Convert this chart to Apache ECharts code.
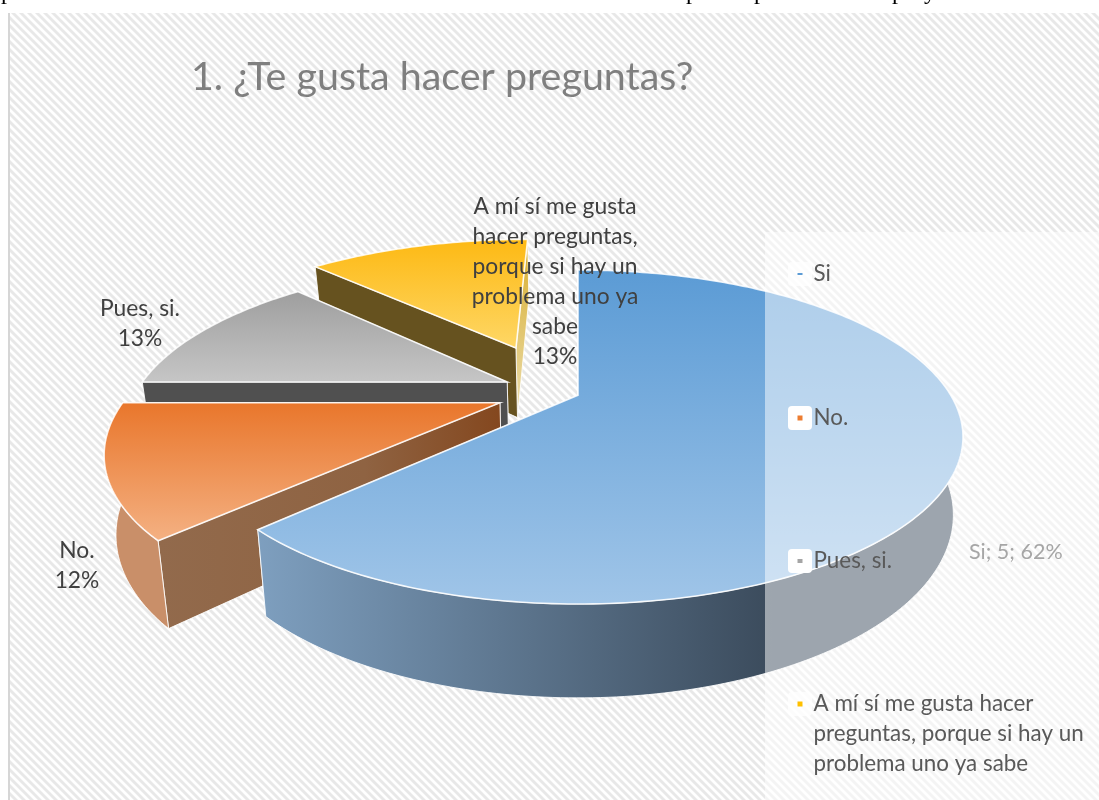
<!DOCTYPE html>
<html>
<head>
<meta charset="utf-8">
<style>html,body{margin:0;padding:0;background:#fff}#c{width:1099px;height:800px}</style>
<script src="https://cdn.jsdelivr.net/npm/echarts@6/dist/echarts.min.js"></script>
</head>
<body>
<div id="c"></div>
<script>
// ---- data ----
const chartTitle = '1. ¿Te gusta hacer preguntas?';
const categories = ['Si', 'No.', 'Pues, si.', 'A mí sí me gusta hacer preguntas, porque si hay un problema uno ya sabe'];
const values = [5, 1, 1, 1];
const percentLabels = ['62%', '12%', '13%', '13%'];
const legendColors = ['#5B9BD5', '#ED7D31', '#A5A5A5', '#FFC000'];

// ---- layout and style of the tilted pie ----
const ellipse = { cx: 578, cy: 437, rx: 385, ry: 167 };
const tilt = 0.25;                          // how far the disc centre sits above the ellipse centre
const floor = { scaleX: 0.975, depth: 78, growth: 0.095 }; // lower rim relative to the upper rim
const explode = [[0, 0], [-0.207, -0.047], [-0.194, 0.086], [-0.18, 0.326]];
const seriesZ = [4, 3, 2, 1];
const vGrad = (a, b) => ({ type: 'linear', x: 0, y: 0, x2: 0, y2: 1, colorStops: [{ offset: 0, color: a }, { offset: 1, color: b }] });
const hGrad = (stops) => ({ type: 'linear', x: 0, y: 0, x2: 1, y2: 0, colorStops: stops.map(s => ({ offset: s[0], color: s[1] })) });
const faces = [
  { top: vGrad('#5B9BD5', '#A0C5E8'), outer: hGrad([[0, '#7E9FBF'], [0.73, '#3B4B5C'], [1, '#3B4B5C']]), start: '#3B4B5C', end: '#7E9FBF' },
  { top: vGrad('#E9762B', '#F4B183'), outer: '#C98F69', start: hGrad([[0, '#926A4C'], [0.6, '#8F6342'], [1, '#84471E']]), end: '#84471E' },
  { top: vGrad('#9E9E9E', '#C6C6C6'), outer: '#707070', start: '#505050', end: '#505050' },
  { top: vGrad('#FDB913', '#FED766'), outer: '#66521F', start: '#66521F', end: vGrad('#D9AE2C', '#EADDB0') }
];

function project(X, Y, lowered) {
  const den = 1 + tilt * Y;
  let x = ellipse.cx + ellipse.rx * X * Math.sqrt(1 - tilt * tilt) / den;
  let y = ellipse.cy - ellipse.ry * (Y + tilt) / den;
  if (lowered) {
    x = ellipse.cx + (x - ellipse.cx) * floor.scaleX;
    y = y + floor.depth + floor.growth * (y - ellipse.cy);
  }
  return [x, y];
}

const total = values.reduce((s, v) => s + v, 0);
function sliceStart(i) {
  return values.slice(0, i).reduce((s, v) => s + v, 0) / total * 2 * Math.PI;
}

function renderSlice(i, params, api) {
  const span = api.value(0) / total * 2 * Math.PI;
  const t0 = sliceStart(i), t1 = t0 + span;
  const ex = explode[i][0], ey = explode[i][1];
  const f = faces[i];
  const n = Math.max(24, Math.round(span * 60));
  const angles = [];
  for (let k = 0; k <= n; k++) angles.push(t0 + span * k / n);
  const at = (t, lowered) => project(ex + Math.sin(t), ey + Math.cos(t), lowered);
  const upper = angles.map(t => at(t, false));
  const apexU = project(ex, ey, false), apexL = project(ex, ey, true);
  const line = 'rgba(255,255,255,0.85)';
  const poly = (points, fill, w) => ({ type: 'polygon', shape: { points }, style: { fill, stroke: line, lineWidth: w } });
  const wallA = poly([apexU, at(t0, false), at(t0, true), apexL], f.start, 1);
  const wallB = poly([apexU, at(t1, false), at(t1, true), apexL], f.end, 1);
  const walls = Math.cos(t0) > Math.cos(t1) ? [wallA, wallB] : [wallB, wallA];
  const front = angles.filter(t => Math.cos(t) < 0);
  const children = walls.slice();
  if (front.length > 1) {
    children.push(poly(front.map(t => at(t, false)).concat(front.slice().reverse().map(t => at(t, true))), f.outer, 1));
  }
  children.push(poly([apexU].concat(upper), f.top, 1.6));
  return { type: 'group', children };
}

// hatch tile for the chart area
const tile = 8;
const hatch = document.createElement('canvas');
hatch.width = tile; hatch.height = tile;
(function () {
  const c = hatch.getContext('2d');
  c.fillStyle = '#ffffff'; c.fillRect(0, 0, tile, tile);
  c.strokeStyle = '#E8E8E8'; c.lineWidth = 2.9;
  [-tile, 0, tile].forEach(o => {
    c.beginPath(); c.moveTo(o - tile, -tile); c.lineTo(o + 2 * tile, 2 * tile); c.stroke();
  });
})();

const font = 'Lato';
const labelColor = '#404040';
const legendColor = '#595959';
const yellowLabel = 'A mí sí me gusta\nhacer preguntas,\nporque si hay un\nproblema uno ya\nsabe';
const legendText = { 3: '\n\nA mí sí me gusta hacer\npreguntas, porque si hay un\nproblema uno ya sabe' };
const legendY = [274, 418, 561, 704];
const keyHeight = [2, 5, 4, 5];
const legendFont = 22.4, labelFont = 22.8, legendLine = 30;

function dataLabel(text, x, y) {
  return { type: 'text', z: 7, x, y, style: { text, font: labelFont + 'px ' + font, fill: labelColor, align: 'center', verticalAlign: 'middle', lineHeight: 30 } };
}
function pageWord(text, x) {
  return { type: 'text', z: 0, x, y: -19, style: { text, font: '24px "Liberation Serif"', fill: '#000', verticalAlign: 'top' } };
}

const option = {
  animation: false,
  title: { text: chartTitle, left: 186, top: 53, textStyle: { fontFamily: font, fontWeight: 400, fontSize: 39.4, color: '#7F7F7F' } },
  legend: categories.map((name, i) => ({
    show: true, z: 10, orient: 'vertical', selectedMode: false, icon: 'rect', padding: 0,
    left: 797.5, top: legendY[i] - legendLine / 2 - (i === 3 ? legendLine * 2 : 0),
    itemWidth: 5, itemHeight: keyHeight[i], data: [name],
    formatter: () => legendText[i] || name,
    textStyle: { fontFamily: font, fontSize: legendFont, color: legendColor, lineHeight: legendLine, padding: [0, 0, 0, 6] }
  })),
  graphic: { elements: [
    pageWord('presentación. Muestra de las contestaciones obtenidas', 1),
    pageWord('para', 686),
    pageWord('parte', 754),
    pageWord('del', 840),
    pageWord('proyecto.', 892),
    { type: 'rect', z: 0, shape: { x: 8, y: 13, width: 1091, height: 787 }, style: { fill: { image: hatch, repeat: 'repeat' } } },
    { type: 'rect', z: 0, shape: { x: 8, y: 13, width: 2, height: 787 }, style: { fill: '#D6D6D6' } },
    { type: 'rect', z: 5, shape: { x: 765, y: 232, width: 334, height: 568 }, style: { fill: 'rgba(255,255,255,0.5)' } },
    ...legendY.map((y, i) => ({ type: 'rect', z: 6, shape: { x: 788, y: y - 12, width: 24, height: 24, r: 4 }, style: { fill: '#fff', opacity: i === 0 || i === 3 ? 0.7 : 1 } })),
    dataLabel(yellowLabel + '\n' + percentLabels[3], 555, 282),
    dataLabel(categories[2] + '\n' + percentLabels[2], 140, 324),
    dataLabel(categories[1] + '\n' + percentLabels[1], 77, 566),
    { type: 'text', z: 7, x: 969, y: 552, style: { text: categories[0] + '; ' + values[0] + '; ' + percentLabels[0], font: '21.5px ' + font, fill: '#A6A6A6', verticalAlign: 'middle' } }
  ] },
  series: categories.map((name, i) => ({
    type: 'custom',
    name,
    z: seriesZ[i],
    coordinateSystem: 'none',
    silent: true,
    itemStyle: { color: legendColors[i] },
    data: [[values[i]]],
    renderItem: (params, api) => renderSlice(i, params, api)
  }))
};

echarts.init(document.getElementById('c'), null, { renderer: 'canvas' }).setOption(option);
</script>
</body>
</html>
